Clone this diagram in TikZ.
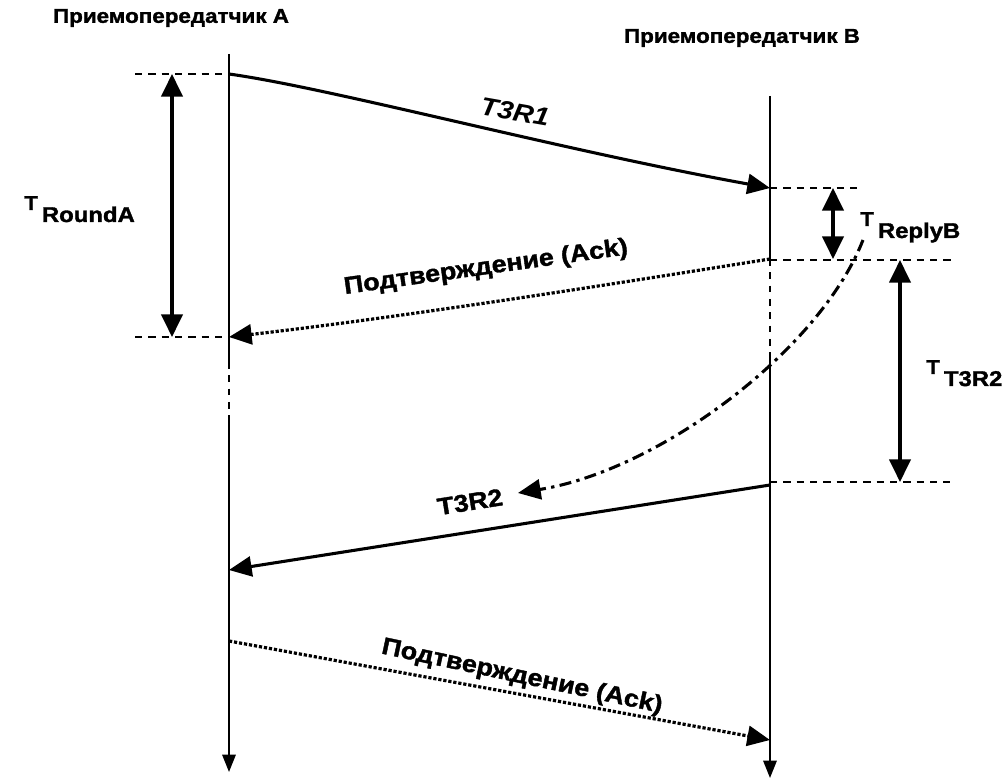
\documentclass[tikz,border=0pt]{standalone}
\usepackage{fontspec}
\setmainfont[FakeStretch=1.12, BoldFeatures={FakeBold=1.6}]{Liberation Sans}
\usetikzlibrary{arrows.meta}
\tikzset{
  life/.style={line width=1.6pt},
  lifedash/.style={line width=1.6pt, dash pattern=on 5pt off 5pt},
  msg/.style={line width=2.3pt, -{Triangle[length=17pt,width=15pt]}},
  ackline/.style={line width=2.4pt, dash pattern=on 2.4pt off 1.4pt, -{Triangle[length=17pt,width=15pt]}},
  dashdot/.style={line width=2.3pt, dash pattern=on 9pt off 4pt on 2.5pt off 4pt, -{Triangle[length=17pt,width=15pt]}},
  guide/.style={line width=1.4pt, dash pattern=on 5.5pt off 4.5pt},
  span/.style={line width=2.3pt, {Triangle[length=17pt,width=16pt]}-{Triangle[length=17pt,width=16pt]}},
  endtip/.style={-{Triangle[length=13pt,width=10pt]}},
  title/.style={font=\bfseries\fontsize{15}{18}\selectfont, inner sep=0pt},
  lbl/.style={font=\bfseries\fontsize{18}{21}\selectfont, inner sep=0pt},
  tlbl/.style={inner sep=0pt, anchor=base west}
}
\newcommand{\tsub}[1]{{\bfseries\fontsize{15}{15}\selectfont T}\hspace{3pt}\raisebox{-9pt}{\bfseries\fontsize{16}{16}\selectfont #1}}
\begin{document}
\begin{tikzpicture}[x=0.75pt,y=-0.75pt]
\useasboundingbox (0,0) rectangle (1007,780);
% titles
\node[title] (titleA) at (171,18) {Приемопередатчик A};
\node[title] (titleB) at (742,38) {Приемопередатчик B};
% lifeline A coordinates
\coordinate (A0) at (229,54);
\coordinate (A1) at (229,74);
\coordinate (Aack1) at (229,337);
\coordinate (Ad1) at (229,362);
\coordinate (Ad2) at (229,420);
\coordinate (At3r2) at (229,570);
\coordinate (Aack2) at (229,641);
\coordinate (Aend) at (229,772);
% lifeline B coordinates
\coordinate (B0) at (770,96);
\coordinate (Bt3r1) at (770,188);
\coordinate (Back1) at (770,259);
\coordinate (Bd2) at (770,355);
\coordinate (Bt3r2) at (770,485);
\coordinate (Back2) at (770,740);
\coordinate (Bend) at (770,778);
% lifelines
\draw[life] (A0) -- (Ad1);
\draw[lifedash] (Ad1) -- (Ad2);
\draw[life,endtip] (Ad2) -- (Aend);
\draw[life] (B0) -- (Back1);
\draw[lifedash] (Back1) -- (Bd2);
\draw[life,endtip] (Bd2) -- (Bend);
% guide lines
\coordinate (gA1) at (135,74);
\coordinate (gA2) at (135,337);
\coordinate (gB1) at (862,188);
\coordinate (gB2) at (955,260);
\coordinate (gB3) at (950,482);
\coordinate (Bg2) at (770,260);
\coordinate (Bg3) at (770,482);
\draw[guide] (gA1) -- (A1);
\draw[guide] (gA2) -- (Aack1);
\draw[guide] (Bt3r1) -- (gB1);
\draw[guide] (Bg2) -- (gB2);
\draw[guide] (Bg3) -- (gB3);
% span arrows
\coordinate (rA1) at (172,74);
\coordinate (rA2) at (172,337);
\draw[span] (rA1) -- (rA2);
\coordinate (rB1) at (833,188);
\coordinate (rB2) at (833,259);
\draw[span] (rB1) -- (rB2);
\coordinate (tB1) at (900,260);
\coordinate (tB2) at (900,482);
\draw[span] (tB1) -- (tB2);
% span labels
\node[tlbl] (lRound) at (24,210) {\tsub{RoundA}};
\node[tlbl] (lReply) at (860,226) {\tsub{ReplyB}};
\node[tlbl] (lT3R2) at (926,374) {\tsub{T3R2}};
% messages
\draw[msg] (A1) .. controls (330,88) and (560,150) .. (Bt3r1);
\node[lbl, font=\bfseries\itshape\fontsize{19}{22}\selectfont, rotate=-10] (m1) at (515,112) {T3R1};
\draw[ackline] (Back1) .. controls (650,278) and (420,315) .. (Aack1);
\node[lbl, rotate=8] (m2) at (486,268) {Подтверждение (Ack)};
\coordinate (dd0) at (863,240);
\coordinate (dd1) at (518,493);
\draw[dashdot] (dd0) .. controls (820,350) and (660,470) .. (dd1);
\node[lbl, rotate=9] (m3) at (470,502) {T3R2};
\draw[msg] (Bt3r2) -- (At3r2);
\draw[ackline] (Aack2) -- (Back2);
\node[lbl, rotate=-12] (m4) at (522,677) {Подтверждение (Ack)};
\end{tikzpicture}
\end{document}
